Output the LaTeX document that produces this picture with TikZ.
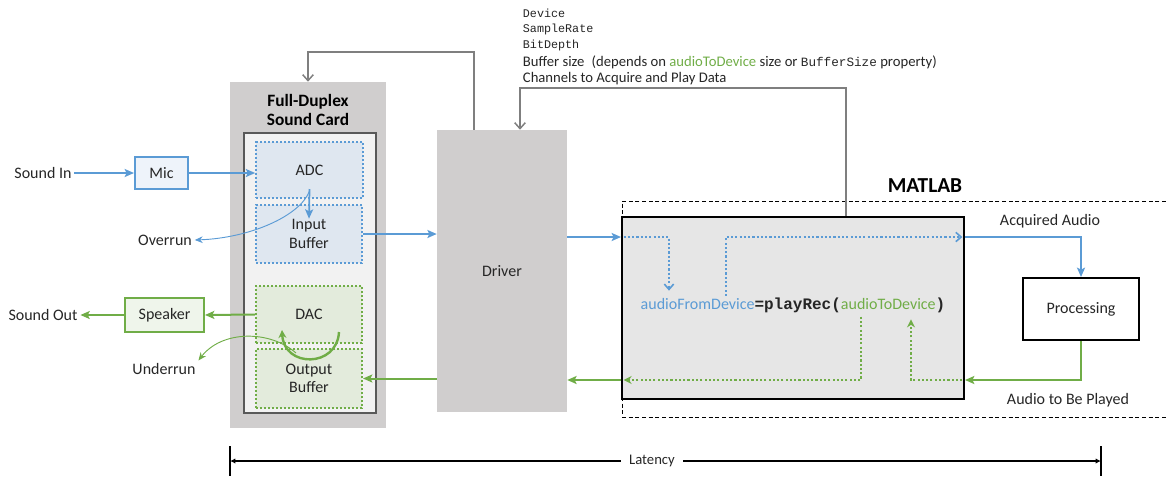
\documentclass[tikz,border=0pt]{standalone}
\usepackage{fontspec}
\setmainfont{Carlito}
\setmonofont{Liberation Mono}
\usepackage{xcolor}
\usepackage{tikz}
\usetikzlibrary{arrows.meta}

\definecolor{mblue}{HTML}{5B9BD5}
\definecolor{mgreen}{HTML}{70AD47}
\definecolor{cardgray}{HTML}{D0CECE}
\definecolor{cardwhite}{HTML}{F2F2F2}
\definecolor{bluefill}{HTML}{DFE7F0}
\definecolor{greenfill}{HTML}{E3EBDC}
\definecolor{micfill}{HTML}{EEF3FA}
\definecolor{spkfill}{HTML}{EFF5EB}
\definecolor{precfill}{HTML}{E6E6E6}
\definecolor{linegray}{HTML}{7F7F7F}
\definecolor{txt}{HTML}{262626}

\tikzset{
  lbl/.style={font=\fontsize{12}{14}\selectfont, text=txt, inner sep=2pt, align=center},
  monotxt/.style={font=\ttfamily\fontsize{8.8}{10}\selectfont, text=txt, inner sep=2pt, anchor=west},
  notetxt/.style={font=\fontsize{11}{13}\selectfont, text=txt, inner sep=2pt, anchor=west},
  cardbox/.style={fill=cardgray, minimum width=117pt, minimum height=259.5pt},
  cardin/.style={fill=cardwhite, draw=black!65, line width=1pt, minimum width=99pt, minimum height=210pt},
  bunit/.style={lbl, fill=bluefill, draw=mblue, line width=1.5pt, dash pattern=on 1.5pt off 1.5pt},
  gunit/.style={lbl, fill=greenfill, draw=mgreen, line width=1.5pt, dash pattern=on 1.5pt off 1.5pt},
  barrow/.style={draw=mblue, line width=1.5pt, -{Stealth[length=7pt,width=6pt,inset=1.5pt]}},
  garrow/.style={draw=mgreen, line width=1.5pt, -{Stealth[length=7pt,width=6pt,inset=1.5pt]}},
  cfgline/.style={draw=linegray, line width=1.1pt, -{Straight Barb[length=4.5pt,width=8pt]}},
  bdots/.style={draw=mblue, line width=1.6pt, dash pattern=on 1.6pt off 1.6pt, -{Straight Barb[length=4pt,width=7pt,line width=1.2pt]}},
  gdots/.style={draw=mgreen, line width=1.6pt, dash pattern=on 1.6pt off 1.6pt, -{Stealth[length=6pt,width=6pt]}},
}

\begin{document}
\begin{tikzpicture}[x=0.75pt,y=-0.75pt]
	\useasboundingbox (0,0) rectangle (1166,480);

	% sound card
	\node[cardbox] (card) at (308,255) {};
	\node[lbl, font=\bfseries\fontsize{13}{14.5}\selectfont, text=black] (cardname) at (308,110) {Full-Duplex\\Sound Card};
	\node[cardin] (cardin) at (310,273) {};
	\node[bunit, minimum width=80pt, minimum height=42pt] (adc) at (309.5,170) {ADC};
	\node[bunit, minimum width=79.5pt, minimum height=43.5pt] (inbuf) at (309,234) {Input\\Buffer};
	\node[gunit, minimum width=79.5pt, minimum height=42.75pt] (dac) at (309,314.5) {DAC};
	\node[gunit, minimum width=79.5pt, minimum height=44.25pt] (outbuf) at (309,378.5) {Output\\Buffer};

	% input side
	\node[lbl] (soundin) at (43,173) {Sound In};
	\node[lbl, fill=micfill, draw=mblue, line width=1.5pt, minimum width=39.75pt, minimum height=24pt] (mic) at (161.5,173) {Mic};
	\node[lbl] (overrun) at (165,240) {Overrun};
	\draw[barrow] (soundin) -- (mic);
	\draw[barrow] (mic.east) -- (mic.east -| adc.west);
	\draw[barrow, line width=1.3pt] ([yshift=7.5pt]adc.south) -- ([yshift=-11pt]inbuf.north);
	\draw[draw=mblue, line width=0.7pt, -{Stealth[length=6pt,width=5pt]}] ([yshift=6pt]adc.south) .. controls (300,216) and (250,238) .. (overrun.east);

	% output side
	\node[lbl] (soundout) at (43,315) {Sound Out};
	\node[lbl, fill=spkfill, draw=mgreen, line width=1.5pt, minimum width=59.25pt, minimum height=25.5pt] (speaker) at (164.5,315) {Speaker};
	\node[lbl] (underrun) at (164,369) {Underrun};
	\draw[garrow] (dac.west) -- (speaker.east);
	\draw[garrow] (speaker) -- (soundout);
	\draw[draw=mgreen, line width=1.8pt, -{Stealth[length=6pt,width=6pt]}] ([shift={(30,-12)}]dac.south) .. controls (337,368) and (284,368) .. (282,330);
	\draw[draw=mgreen, line width=0.7pt, -{Stealth[length=6pt,width=5pt]}] ([shift={(-13,9)}]dac.south) .. controls (270,330) and (222,330) .. (underrun.north east);

	% driver
	\node[lbl, fill=cardgray, minimum width=97.5pt, minimum height=211.5pt] (driver) at (502,271) {Driver};
	\draw[barrow] (inbuf.east) -- (inbuf.east -| driver.west);
	\draw[garrow] (driver.west |- outbuf.east) -- (outbuf.east);

	% settings sent to the driver
	\node[monotxt] (pdev) at (520,13) {Device};
	\node[monotxt] (prate) at (520,29) {SampleRate};
	\node[monotxt] (pbits) at (520,45) {BitDepth};
	\node[notetxt] (pbuf) at (520,62) {Buffer size\enspace(depends on \textcolor{mgreen}{audioToDevice} size or {\ttfamily\fontsize{9.5}{10}\selectfont BufferSize} property)};
	\node[notetxt] (pchan) at (520,79) {Channels to Acquire and Play Data};

	% MATLAB side
	\draw[black, line width=0.6pt, dash pattern=on 3pt off 2pt] (1166,201) -- (622,201) -- (622,417) -- (1166,417);
	\node[font=\bfseries\fontsize{16}{18}\selectfont] (mlab) at (925,186) {MATLAB};
	\node[fill=precfill, draw=black, line width=1.5pt, minimum width=256.5pt, minimum height=136.5pt] (prec) at (793,308) {};
	\node[lbl] (eq) at (793,305) {\textcolor{mblue}{audioFromDevice}{\ttfamily\bfseries =playRec(}\textcolor{mgreen}{audioToDevice}{\ttfamily\bfseries )}};
	\node[lbl, fill=white, draw=black, line width=1.5pt, minimum width=87pt, minimum height=46.5pt] (proc) at (1081,309) {Processing};
	\node[lbl] (acqtxt) at (1050,221) {Acquired Audio};
	\node[lbl] (playtxt) at (1068,400) {Audio to Be Played};

	\coordinate (cfgA) at (474,52);
	\coordinate (cfgB) at (846,88);
	\coordinate (cfgC) at (520,88);
	\draw[cfgline] (driver.north -| cfgA) -- (cfgA) -| (card.north);
	\draw[cfgline] (prec.north -| cfgB) -- (cfgB) -- (cfgC) -- (driver.north -| cfgC);

	\coordinate (acq) at (0,237);
	\coordinate (play) at (0,380);
	\coordinate (xin) at (669,0);
	\coordinate (xout) at (726,0);
	\coordinate (xplay) at (861,0);
	\coordinate (xret) at (911,0);

	% acquired audio
	\draw[barrow] (driver.east |- acq) -- (prec.west |- acq);
	\draw[bdots] ([xshift=2pt]prec.west |- acq) -| ([yshift=3pt]eq.north -| xin);
	\draw[bdots] ([yshift=-1pt]eq.north -| xout) |- ([xshift=-2pt]prec.east |- acq);
	\draw[barrow] (prec.east |- acq) -| (proc.north);

	% audio to be played
	\draw[garrow] (proc.south) |- (prec.east |- play);
	\draw[gdots] ([xshift=-2pt]prec.east |- play) -| ([yshift=-3pt]eq.south -| xret);
	\draw[gdots] ([yshift=-1pt]eq.south -| xplay) |- ([xshift=2pt]prec.west |- play);
	\draw[garrow] (prec.west |- play) -- (driver.east |- play);

	% latency
	\node[lbl, font=\fontsize{11}{13}\selectfont, inner sep=6pt] (lat) at (652,461) {Latency};
	\coordinate (latL) at (230,461);
	\coordinate (latR) at (1101,461);
	\draw[line width=0.8pt] ([yshift=11pt]latL) -- ([yshift=-11pt]latL);
	\draw[line width=0.8pt] ([yshift=11pt]latR) -- ([yshift=-11pt]latR);
	\draw[line width=0.8pt, -{Latex[length=4pt,width=4pt]}] (lat.west) -- (latL);
	\draw[line width=0.8pt, -{Latex[length=4pt,width=4pt]}] (lat.east) -- (latR);
\end{tikzpicture}
\end{document}
